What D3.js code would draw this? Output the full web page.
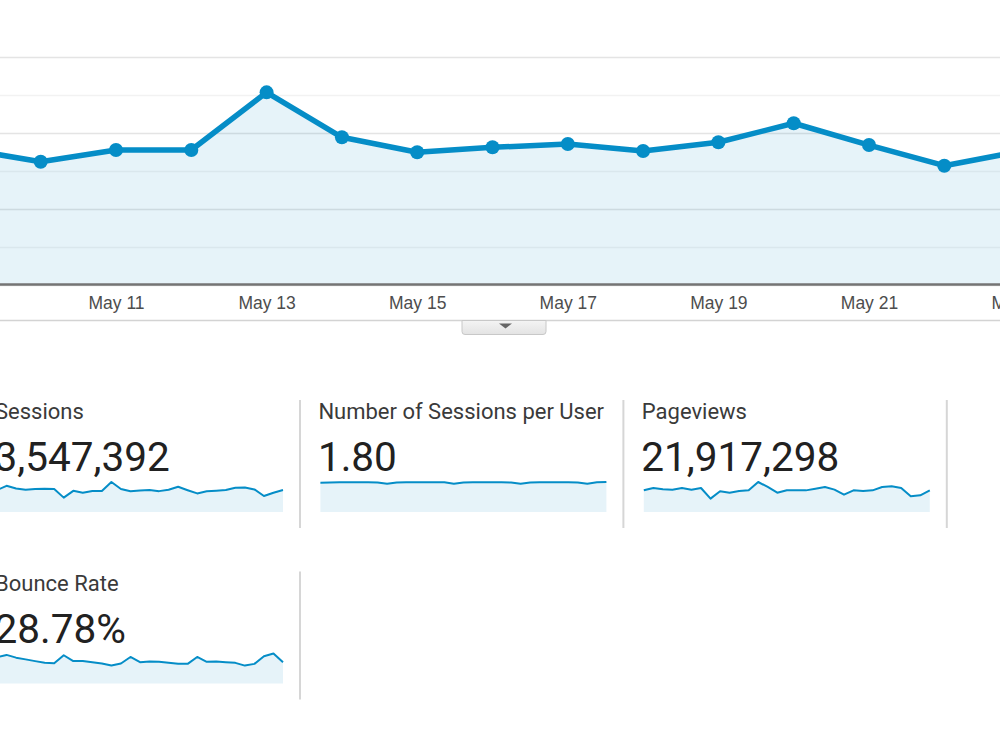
<!DOCTYPE html>
<html>
<head>
<meta charset="utf-8">
<script src="https://cdn.jsdelivr.net/npm/d3@7"></script>
<style>
  body { margin: 0; background: #fff; }
  svg { display: block; }
  .axisX text { font-family: "Liberation Sans", Arial, sans-serif; font-size: 17.5px; fill: #4d4d4d; }
  .cardLabel { font-family: Roboto, sans-serif; font-size: 22px; fill: #3a3a3a; }
  .cardValue { font-family: Roboto, sans-serif; font-size: 40.5px; fill: #212121; }
</style>
</head>
<body>
<div id="chart"></div>
<script>
// Daily data, May 1 - May 31
var days = [1, 2, 3, 4, 5, 6, 7, 8, 9, 10, 11, 12, 13, 14, 15, 16, 17, 18, 19, 20, 21, 22, 23, 24, 25, 26, 27, 28, 29, 30, 31];
// only the labels that fall inside the visible window
var tickDays = [11, 13, 15, 17, 19, 21, 23];

var sessions = [111200, 132700, 119400, 112800, 116100, 117800, 116100, 72900, 107400, 97300,
  106600, 106600, 152100, 116600, 104800, 108700, 111300, 105800, 112700, 127700,
  110500, 94200, 105500, 107900, 111200, 122700, 124500, 114500, 81300, 97900, 111200];
var sessionsPerUser = [1.79, 1.80, 1.81, 1.81, 1.81, 1.81, 1.80, 1.72, 1.80, 1.81,
  1.81, 1.81, 1.81, 1.81, 1.73, 1.80, 1.81, 1.81, 1.81, 1.81,
  1.80, 1.72, 1.80, 1.81, 1.81, 1.81, 1.81, 1.80, 1.73, 1.81, 1.83];
var pageviews = [702000, 777000, 734000, 723000, 776000, 723000, 778000, 432000, 669000, 626000,
  680000, 701000, 971000, 810000, 626000, 702000, 703000, 700000, 756000, 810000,
  723000, 561000, 702000, 680000, 701000, 809000, 831000, 777000, 507000, 540000, 702000];
var bounceRate = [33.3, 36.4, 32.9, 30.7, 28.5, 26.3, 25.9, 36.0, 28.5, 28.5,
  27.2, 25.4, 22.8, 25.4, 33.8, 27.2, 28.1, 27.6, 26.3, 25.0,
  25.0, 33.8, 27.6, 28.1, 27.2, 26.3, 22.8, 25.0, 34.7, 38.2, 27.2];

var cardLabels = ["Sessions", "Number of Sessions per User", "Pageviews", "Bounce Rate"];
var cardTotals = ["3,547,392", "1.80", "21,917,298", "28.78%"];
var cardSeries = [sessions, sessionsPerUser, pageviews, bounceRate];

var gridValues = [0, 30000, 60000, 90000, 120000, 150000, 180000];

var svgWidth = 1000;
var svgHeight = 750;
var blue = "#058dc7";

var svg = d3.select("#chart")
  .append("svg")
  .attr("width", svgWidth)
  .attr("height", svgHeight);

// Step 1: scales for the big chart
// ==============================
var dates = days.map(d => new Date(2018, 4, d));

var xTimeScale = d3.scaleTime()
  .domain([dates[0], dates[dates.length - 1]])
  .range([-637, 1622]);

var yLinearScale = d3.scaleLinear()
  .domain([0, 180000])
  .range([285, 57]);

// Step 2: gridlines
// ==============================
svg.append("g")
  .selectAll("line")
  .data(gridValues)
  .enter()
  .append("line")
  .attr("x1", 0)
  .attr("x2", svgWidth)
  .attr("y1", d => Math.round(yLinearScale(d)) + 0.5)
  .attr("y2", d => Math.round(yLinearScale(d)) + 0.5)
  .attr("stroke", (d, i) => i % 2 == 0 ? "#e4e4e4" : "#f2f2f2")
  .attr("stroke-width", 1.5);

// Step 3: area, line and points
// ==============================
var area = d3.area()
  .x((d, i) => xTimeScale(dates[i]))
  .y0(yLinearScale(0))
  .y1(d => yLinearScale(d));

var line = d3.line()
  .x((d, i) => xTimeScale(dates[i]))
  .y(d => yLinearScale(d));

svg.append("path")
  .datum(sessions)
  .attr("d", area)
  .attr("fill", blue)
  .attr("fill-opacity", 0.1);

svg.append("path")
  .datum(sessions)
  .attr("d", line)
  .attr("fill", "none")
  .attr("stroke", blue)
  .attr("stroke-width", 5.5)
  .attr("stroke-linejoin", "round");

svg.append("g")
  .selectAll("circle")
  .data(sessions)
  .enter()
  .append("circle")
  .attr("cx", (d, i) => xTimeScale(dates[i]))
  .attr("cy", d => yLinearScale(d))
  .attr("r", 7)
  .attr("fill", blue);

// Step 4: x axis
// ==============================
svg.append("line")
  .attr("x1", 0)
  .attr("x2", svgWidth)
  .attr("y1", 284.5)
  .attr("y2", 284.5)
  .attr("stroke", "#747474")
  .attr("stroke-width", 2.5);

var bottomAxis = d3.axisBottom(xTimeScale)
  .tickValues(tickDays.map(d => new Date(2018, 4, d)))
  .tickFormat(d3.timeFormat("%b %-d"))
  .tickSize(0)
  .tickPadding(0);

var axisGroup = svg.append("g")
  .attr("class", "axisX")
  .attr("transform", "translate(0, 295.5)")
  .call(bottomAxis);
axisGroup.select(".domain").remove();
axisGroup.selectAll("text").attr("dy", "0.75em");

// bottom border with the little toggle tab
svg.append("line")
  .attr("x1", 0)
  .attr("x2", svgWidth)
  .attr("y1", 320.5)
  .attr("y2", 320.5)
  .attr("stroke", "#d3d3d3")
  .attr("stroke-width", 1.5);

var grad = svg.append("defs").append("linearGradient")
  .attr("id", "tabGrad")
  .attr("x1", 0).attr("x2", 0).attr("y1", 0).attr("y2", 1);
grad.append("stop").attr("offset", "0%").attr("stop-color", "#f4f4f4");
grad.append("stop").attr("offset", "100%").attr("stop-color", "#e3e3e3");

svg.append("path")
  .attr("d", "M462,320.5 L462,331.5 Q462,334.5 465,334.5 L543,334.5 Q546,334.5 546,331.5 L546,320.5 Z")
  .attr("fill", "url(#tabGrad)")
  .attr("stroke", "#c8c8c8")
  .attr("stroke-width", 1);

svg.append("path")
  .attr("d", "M499,323.5 L512,323.5 L505.5,328.5 Z")
  .attr("fill", "#666");

// Step 5: metric cards with sparklines
// ==============================
cardLabels.forEach(function(label, i) {
  var col = i % 3;
  var row = Math.floor(i / 3);
  var x0 = -3 + col * 323.4;
  var dy = row * 171.5;
  var values = cardSeries[i];

  var g = svg.append("g").attr("transform", `translate(0, ${dy})`);

  g.append("text")
    .attr("class", "cardLabel")
    .attr("x", x0 - 2)
    .attr("y", 419)
    .text(label);

  g.append("text")
    .attr("class", "cardValue")
    .attr("x", x0 - 2.5)
    .attr("y", 471)
    .text(cardTotals[i]);

  var sx = d3.scaleLinear()
    .domain([0, values.length - 1])
    .range([x0, x0 + 286]);
  var sy = d3.scaleLinear()
    .domain([0, d3.max(values)])
    .range([512, 482]);

  g.append("path")
    .datum(values)
    .attr("d", d3.area().x((d, j) => sx(j)).y0(sy(0)).y1(d => sy(d)))
    .attr("fill", blue)
    .attr("fill-opacity", 0.1);

  g.append("path")
    .datum(values)
    .attr("d", d3.line().x((d, j) => sx(j)).y(d => sy(d)))
    .attr("fill", "none")
    .attr("stroke", blue)
    .attr("stroke-width", 2)
    .attr("stroke-linejoin", "round");

  g.append("line")
    .attr("x1", x0 + 303)
    .attr("x2", x0 + 303)
    .attr("y1", 400)
    .attr("y2", 528)
    .attr("stroke", "#d6d6d6")
    .attr("stroke-width", 2);
});
</script>
</body>
</html>
